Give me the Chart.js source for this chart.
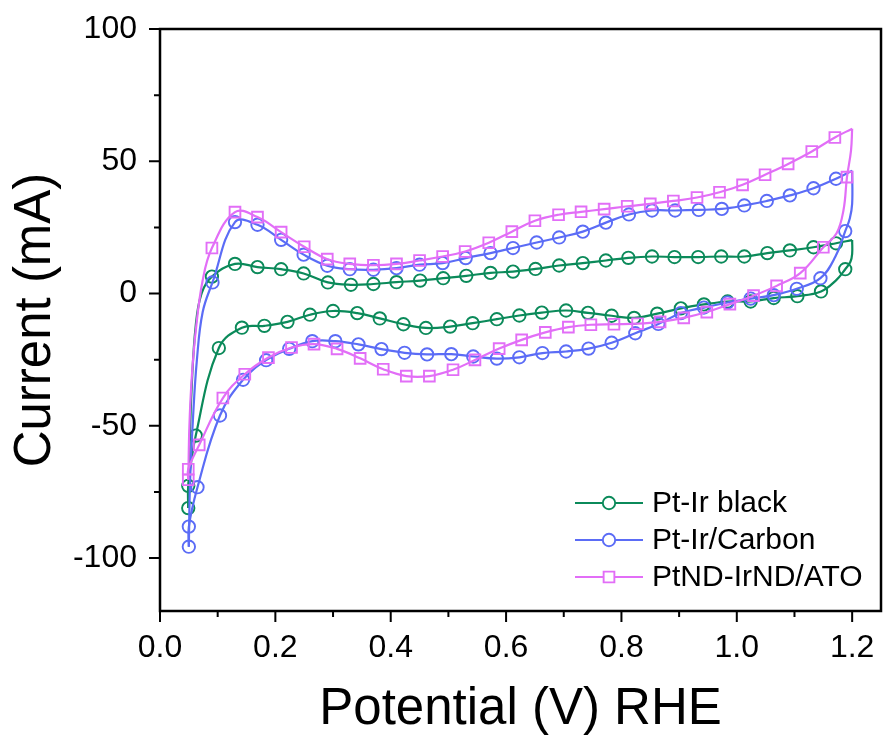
<!DOCTYPE html>
<html>
<head>
<meta charset="utf-8">
<script src="https://cdn.jsdelivr.net/npm/chart.js@4.4.1/dist/chart.umd.min.js"></script>
<style>
  html, body { margin: 0; padding: 0; background: #fff; overflow: hidden; }
  canvas { display: block; }
</style>
</head>
<body>
<canvas id="chart" width="883" height="742"></canvas>
<script>
// axis ticks
const xTicks = [0, 0.2, 0.4, 0.6, 0.8, 1.0, 1.2];
const xMinor = [0.1, 0.3, 0.5, 0.7, 0.9, 1.1];
const yTicks = [-100, -50, 0, 50, 100];
const yMinor = [-75, -25, 25, 75];

// Pt-Ir black: anodic markers, cathodic markers, plus unmarked knots at the turns
const blackUp = [[0.049,-81.1],[0.090,6.4],[0.130,11.2],[0.169,10.0],[0.210,9.2],[0.249,7.6],[0.291,4.2],[0.331,3.3],[0.370,3.6],[0.410,4.3],[0.451,4.9],[0.491,5.8],[0.531,6.7],[0.573,7.8],[0.612,8.3],[0.651,9.3],[0.692,10.6],[0.733,11.5],[0.773,12.5],[0.812,13.5],[0.853,14.0],[0.892,13.8],[0.933,13.8],[0.973,14.0],[1.013,14.0],[1.053,15.3],[1.092,16.3],[1.133,17.5],[1.172,19.0]];
const blackRise = [[0.051,-60],[0.055,-35],[0.062,-12],[0.072,0]];
const blackTop = [[1.2,20.2],[1.2,15],[1.197,12]];
const blackBend = [[1.172,5.0]];
const blackDown = [[1.188,9.2],[1.146,0.8],[1.105,-1.0],[1.064,-1.7],[1.024,-3.0],[0.984,-3.0],[0.943,-4.1],[0.903,-5.6],[0.862,-7.6],[0.822,-9.2],[0.783,-8.4],[0.742,-7.3],[0.704,-6.4],[0.662,-7.2],[0.623,-8.3],[0.584,-9.7],[0.542,-11.2],[0.503,-12.5],[0.461,-13.0],[0.422,-11.6],[0.381,-9.4],[0.342,-7.4],[0.300,-6.6],[0.260,-8.0],[0.221,-10.7],[0.181,-12.2],[0.142,-12.9],[0.102,-20.6],[0.062,-53.7],[0.049,-72.7]];

// Pt-Ir/Carbon
const carbonUp = [[0.050,-95.7],[0.091,4.2],[0.130,27.0],[0.169,26.0],[0.210,20.3],[0.249,14.7],[0.290,10.5],[0.329,9.2],[0.370,9.0],[0.410,9.6],[0.450,10.9],[0.490,11.5],[0.530,13.4],[0.573,15.3],[0.612,17.2],[0.653,19.3],[0.692,21.2],[0.733,23.4],[0.773,26.8],[0.813,29.9],[0.853,31.4],[0.893,31.4],[0.934,31.6],[0.974,32.0],[1.013,33.3],[1.052,35.0],[1.092,37.1],[1.133,39.8],[1.172,43.4]];
const carbonRise = [[0.052,-72],[0.057,-48],[0.064,-25],[0.074,-7]];
const carbonTop = [[1.2,46.4],[1.2,34],[1.196,28.5]];
const carbonBend = [[1.171,14]];
const carbonDown = [[1.188,23.6],[1.145,5.8],[1.104,1.8],[1.064,-0.6],[1.024,-1.9],[0.984,-3.4],[0.943,-5.3],[0.903,-7.4],[0.864,-11.5],[0.824,-15.0],[0.783,-18.6],[0.743,-20.8],[0.704,-21.9],[0.663,-22.5],[0.623,-24.1],[0.584,-24.6],[0.543,-23.8],[0.505,-22.9],[0.463,-23.0],[0.424,-22.4],[0.384,-21.0],[0.344,-19.2],[0.304,-18.0],[0.264,-18.0],[0.224,-20.9],[0.184,-25.2],[0.144,-32.6],[0.104,-46.1],[0.065,-73.2],[0.050,-88.1]];

// PtND-IrND/ATO
const atoUp = [[0.049,-70.4],[0.090,17.2],[0.130,30.8],[0.169,28.9],[0.210,23.2],[0.250,17.7],[0.290,13.0],[0.329,11.2],[0.370,10.7],[0.410,11.2],[0.450,12.5],[0.490,14.0],[0.529,15.9],[0.570,19.2],[0.610,23.4],[0.650,27.5],[0.691,29.8],[0.730,30.9],[0.770,31.9],[0.810,33.0],[0.850,33.9],[0.890,35.0],[0.931,36.3],[0.970,38.3],[1.010,41.1],[1.049,44.9],[1.089,49.0],[1.130,53.7],[1.170,59.0]];
const atoRise = [[0.051,-50],[0.055,-32],[0.062,-14],[0.074,5]];
const atoTop = [[1.2,62.3],[1.198,54]];
const atoBend = [[1.185,31.6],[1.173,22.8]];
const atoDown = [[1.191,44.0],[1.150,17.5],[1.110,7.7],[1.069,2.9],[1.029,-0.8],[0.988,-4.0],[0.948,-7.0],[0.908,-9.2],[0.867,-10.7],[0.828,-11.4],[0.787,-11.6],[0.747,-11.8],[0.708,-12.7],[0.668,-14.7],[0.627,-17.5],[0.588,-20.8],[0.546,-25.1],[0.508,-28.8],[0.467,-31.2],[0.427,-31.2],[0.387,-28.6],[0.347,-24.5],[0.307,-20.9],[0.267,-19.1],[0.228,-20.4],[0.188,-24.2],[0.147,-30.5],[0.109,-39.5],[0.068,-57.2],[0.049,-66.4]];

const FONT = '"Liberation Sans", Arial, Helvetica, sans-serif';
const GREEN = '#0b8a5a';
const BLUE = '#5b6cf6';
const PINK = '#e26ef7';

const series = [
  { name: 'Pt-Ir black', color: GREEN, style: 'circle', radius: 6.2, up: blackUp, rise: blackRise, top: blackTop, bend: blackBend, down: blackDown },
  { name: 'Pt-Ir/Carbon', color: BLUE, style: 'circle', radius: 6.2, up: carbonUp, rise: carbonRise, top: carbonTop, bend: carbonBend, down: carbonDown },
  { name: 'PtND-IrND/ATO', color: PINK, style: 'rect', radius: 7.6, up: atoUp, rise: atoRise, top: atoTop, bend: atoBend, down: atoDown }
];

const pts = arr => arr.map(([x, y]) => ({ x, y }));

// first dataset is drawn on top, so go pink -> blue -> green
const datasets = [];
series.slice().reverse().forEach(s => {
  const anodic = [s.up[0], ...s.rise, ...s.up.slice(1), s.top[0]];
  const cathodic = [...s.top, s.down[0], ...s.bend, ...s.down.slice(1), s.up[0]];
  const lineOpts = { showLine: true, borderColor: s.color, borderWidth: 2.2, pointRadius: 0, tension: 0.4 };
  datasets.push({ label: s.name, data: pts([...s.up, ...s.down]), showLine: false,
    pointStyle: s.style, pointRadius: s.radius, pointBorderWidth: 1.9,
    borderColor: s.color, backgroundColor: 'rgba(0,0,0,0)' });
  datasets.push({ label: s.name + ' anodic', data: pts(anodic), ...lineOpts });
  datasets.push({ label: s.name + ' cathodic', data: pts(cathodic), ...lineOpts });
});

// frame, outward ticks and the in-plot legend
const framePlugin = {
  id: 'frame',
  afterDraw(chart) {
    const { ctx, chartArea: a, scales: { x, y } } = chart;
    ctx.save();
    ctx.strokeStyle = '#000';
    ctx.lineWidth = 2.5;
    ctx.strokeRect(a.left, a.top, a.right - a.left, a.bottom - a.top);
    ctx.lineWidth = 2;
    ctx.beginPath();
    xTicks.forEach(v => { const p = x.getPixelForValue(v); ctx.moveTo(p, a.bottom); ctx.lineTo(p, a.bottom + 11); });
    xMinor.forEach(v => { const p = x.getPixelForValue(v); ctx.moveTo(p, a.bottom); ctx.lineTo(p, a.bottom + 6); });
    yTicks.forEach(v => { const p = y.getPixelForValue(v); ctx.moveTo(a.left, p); ctx.lineTo(a.left - 11, p); });
    yMinor.forEach(v => { const p = y.getPixelForValue(v); ctx.moveTo(a.left, p); ctx.lineTo(a.left - 6, p); });
    ctx.stroke();

    // legend
    ctx.font = '30px ' + FONT;
    ctx.textBaseline = 'middle';
    ctx.textAlign = 'left';
    series.forEach((s, i) => {
      const cy = 503 + i * 37;
      ctx.strokeStyle = s.color;
      ctx.lineWidth = 2.2;
      ctx.beginPath();
      ctx.moveTo(575, cy); ctx.lineTo(643, cy);
      ctx.stroke();
      ctx.lineWidth = 1.9;
      ctx.beginPath();
      if (s.style === 'rect') {
        const h = s.radius * Math.SQRT1_2;
        ctx.rect(609 - h, cy - h, 2 * h, 2 * h);
      } else {
        ctx.arc(609, cy, s.radius, 0, Math.PI * 2);
      }
      ctx.fillStyle = '#fff';
      ctx.fill();
      ctx.stroke();
      ctx.fillStyle = '#000';
      ctx.fillText(s.name, 652, cy + 1);
    });
    ctx.restore();
  }
};

new Chart(document.getElementById('chart'), {
  type: 'scatter',
  data: { datasets },
  options: {
    responsive: false,
    animation: false,
    layout: { autoPadding: false, padding: { top: 29, right: 2, left: 0, bottom: 0 } },
    plugins: { legend: { display: false }, tooltip: { enabled: false } },
    scales: {
      x: {
        type: 'linear', min: 0, max: 1.25,
        afterFit: s => { s.height = 131; s.paddingLeft = 0; s.paddingRight = 0; },
        afterBuildTicks: s => { s.ticks = xTicks.map(v => ({ value: v })); },
        grid: { display: false, drawTicks: false },
        border: { display: false },
        ticks: { padding: 18, color: '#000', font: { family: FONT, size: 32 }, callback: v => Number(v).toFixed(1) },
        title: { display: true, text: 'Potential (V) RHE', color: '#000', font: { family: FONT, size: 51 }, padding: { top: 0, bottom: 1 } }
      },
      y: {
        type: 'linear', min: -120, max: 100,
        afterFit: s => { s.width = 160; s.paddingTop = 0; s.paddingBottom = 0; },
        afterBuildTicks: s => { s.ticks = yTicks.map(v => ({ value: v })); },
        grid: { display: false, drawTicks: false },
        border: { display: false },
        ticks: { padding: 23, color: '#000', font: { family: FONT, size: 32 }, callback: v => String(v) },
        title: { display: true, text: 'Current (mA)', color: '#000', font: { family: FONT, size: 51 }, padding: { top: 5, bottom: 0 } }
      }
    }
  },
  plugins: [framePlugin]
});
</script>
</body>
</html>
